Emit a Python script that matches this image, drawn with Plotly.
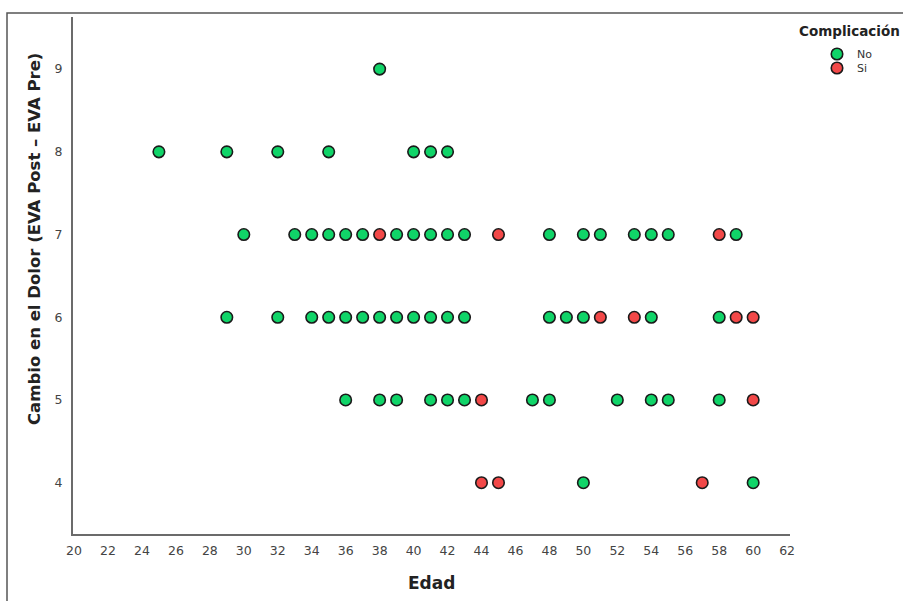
import plotly.graph_objects as go

# Data: Edad (x) and Cambio en el Dolor (y), by Complicación
no_edad = [38,
           25, 29, 32, 35, 40, 41, 42,
           30, 33, 34, 35, 36, 37, 39, 40, 41, 42, 43, 48, 50, 51, 53, 54, 55, 59,
           29, 32, 34, 35, 36, 37, 38, 39, 40, 41, 42, 43, 48, 49, 50, 54, 58,
           36, 38, 39, 41, 42, 43, 47, 48, 52, 54, 55, 58,
           50, 60]
no_cambio = [9,
             8, 8, 8, 8, 8, 8, 8,
             7, 7, 7, 7, 7, 7, 7, 7, 7, 7, 7, 7, 7, 7, 7, 7, 7, 7,
             6, 6, 6, 6, 6, 6, 6, 6, 6, 6, 6, 6, 6, 6, 6, 6, 6,
             5, 5, 5, 5, 5, 5, 5, 5, 5, 5, 5, 5,
             4, 4]
si_edad = [38, 45, 58,
           51, 53, 59, 60,
           44, 60,
           44, 45, 57]
si_cambio = [7, 7, 7,
             6, 6, 6, 6,
             5, 5,
             4, 4, 4]

x_ticks = list(range(20, 63, 2))
y_ticks = [4, 5, 6, 7, 8, 9]

GREEN = "#10D468"
RED = "#F24848"
FONT = "DejaVu Sans"

fig = go.Figure()
fig.add_trace(go.Scatter(x=no_edad, y=no_cambio, mode="markers", name="No",
                         legend="legend",
                         marker=dict(size=11.5, color=GREEN,
                                     line=dict(color="#1a1a1a", width=1.6))))
fig.add_trace(go.Scatter(x=si_edad, y=si_cambio, mode="markers", name="Si",
                         legend="legend2",
                         marker=dict(size=11.5, color=RED,
                                     line=dict(color="#1a1a1a", width=1.6))))

L, R, T, B = 73, 113, 17, 67
W, H = 903, 601
pw, ph = W - L - R, H - T - B

def px_x(px):
    return (px - L) / pw

def px_y(py):
    return (H - B - py) / ph

leg_common = dict(xanchor="left", yanchor="middle",
                  font=dict(size=11, color="#333", family=FONT),
                  bgcolor="rgba(0,0,0,0)", itemwidth=30)

fig.update_layout(
    width=W, height=H,
    margin=dict(l=L, r=R, t=T, b=B),
    plot_bgcolor="white", paper_bgcolor="white",
    font=dict(family=FONT, color="#444"),
    xaxis=dict(range=[19.94, 62.17], tickvals=x_ticks, showgrid=False, zeroline=False,
               showline=True, linecolor="#6b6b6b", linewidth=2.2,
               ticks="", ticklabelstandoff=4,
               tickfont=dict(size=12.5, color="#444", family=FONT)),
    yaxis=dict(range=[3.38, 9.63], tickvals=y_ticks, showgrid=False, zeroline=False,
               showline=True, linecolor="#6b6b6b", linewidth=2.2,
               ticks="", ticklabelstandoff=6,
               tickfont=dict(size=12.5, color="#444", family=FONT)),
    showlegend=True,
    legend=dict(x=px_x(817), y=px_y(54), **leg_common),
    legend2=dict(x=px_x(817), y=px_y(68), **leg_common),
    annotations=[
        dict(text="<b>Cambio en el Dolor (EVA Post – EVA Pre)</b>", textangle=-90,
             xref="paper", yref="paper", x=px_x(34), y=px_y(239),
             xanchor="center", yanchor="middle", showarrow=False,
             font=dict(size=16.5, color="#222", family=FONT)),
        dict(text="<b>Edad</b>", xref="paper", yref="paper",
             x=px_x(431), y=px_y(583), xanchor="center", yanchor="middle",
             showarrow=False, font=dict(size=17, color="#222", family=FONT)),
        dict(text="<b>Complicación</b>", xref="paper", yref="paper",
             x=px_x(797), y=px_y(31), xanchor="left", yanchor="middle",
             showarrow=False, font=dict(size=13.5, color="#222", family=FONT)),
    ],
    shapes=[
        dict(type="rect", xref="paper", yref="paper",
             x0=px_x(7), x1=px_x(960), y0=px_y(660), y1=px_y(13),
             line=dict(color="#555", width=1.5), fillcolor="rgba(0,0,0,0)", layer="below"),
    ],
)

fig.write_html("out.html")
